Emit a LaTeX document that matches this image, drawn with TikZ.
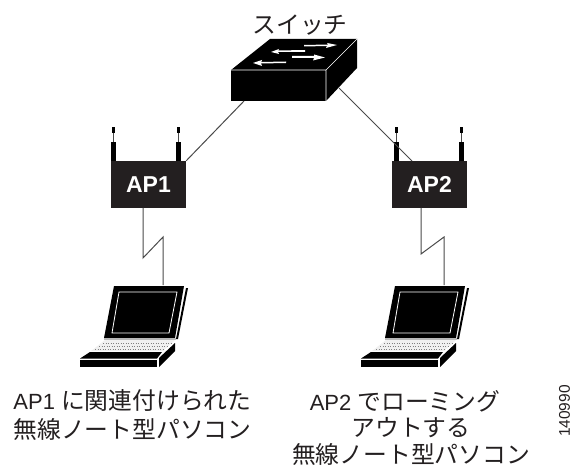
\documentclass[tikz,border=0pt]{standalone}
\usepackage{fontspec}
\setmainfont{Liberation Sans}
\newfontfamily\cjk{Noto Sans CJK JP}
\definecolor{apblack}{HTML}{231F20}
\definecolor{linegray}{HTML}{4A4A4A}
\newcommand{\capfont}{\fontsize{22}{28.5}\selectfont}
\newcommand{\capcjk}{\cjk\fontsize{23.8}{28.5}\selectfont}
\tikzset{
  x=1pt,y=-1pt,
  apbox/.style={fill=apblack,text=white,minimum width=75pt,minimum height=47pt,inner sep=0pt,font=\bfseries\fontsize{23}{23}\selectfont},
  link/.style={draw=linegray,line width=1pt},
  captext/.style={align=center,text=apblack,font=\capfont,inner sep=0pt},
}
\newcommand{\antenna}[1]{%
  \fill[black] (#1-2.5,142) rectangle (#1+2.5,161);
  \draw[linegray,line width=0.8pt] (#1,133) -- (#1,142);
  \fill[black] (#1-1.5,127) rectangle (#1+1.5,133);
}
\newcommand{\laptop}[1]{%
  \begin{scope}[shift={(#1,0)}]
    \fill[black] (114,286) -- (184,286) -- (175,338) -- (104,338) -- cycle;
    \draw[white,line width=0.8pt] (119,292) -- (177,292) -- (169,333) -- (112,333) -- cycle;
    \fill[black] (186,288) -- (188,288) -- (178,339) -- (176,339) -- cycle;
    \fill[gray!55] (104,338) rectangle (176,340);
    \fill[gray!12] (105,340) -- (175,340) -- (163,351) -- (91,351) -- cycle;
    \draw[gray,line width=0.5pt,dotted] (103,343) -- (171,343);
    \draw[gray,line width=0.5pt,dotted] (99,346) -- (167,346);
    \draw[gray,line width=0.5pt,dotted] (95,349) -- (163,349);
    \fill[black] (90,352) -- (162,352) -- (157,358.5) -- (80,358.5) -- cycle;
    \fill[black] (80,360) rectangle (157,367);
    \fill[black] (159,358) -- (175,343) -- (175,351) -- (159,367) -- cycle;
  \end{scope}
}
\begin{document}
\begin{tikzpicture}
\useasboundingbox (0,0) rectangle (573,465);
% switch
\fill[black] (231,70) rectangle (326,101);
\fill[black] (231,70) -- (270,39) -- (357,39) -- (326,70) -- cycle;
\fill[black] (326,70) -- (357,39) -- (357,68) -- (326,101) -- cycle;
\draw[white,line width=0.6pt] (231,70) -- (326,70) -- (357,39) (326,70) -- (326,101);
\fill[white] (304,45) -- (328,44.5) -- (327,43) -- (337,45) -- (326,48) -- (327,46) -- (304,46.5) -- cycle;
\fill[white] (305,50) -- (278,50.5) -- (279,49) -- (271,52) -- (279,54) -- (278,52) -- (305,52) -- cycle;
\fill[white] (292,56) -- (314,56) -- (314,54.5) -- (325,57.5) -- (313,60.5) -- (314,58) -- (292,58) -- cycle;
\fill[white] (286,61.5) -- (261,62) -- (262,60) -- (253,63) -- (262,66) -- (261,63.5) -- (286,63) -- cycle;
\node[text=apblack,font=\capcjk,inner sep=0pt] (swlabel) at (300,25) {スイッチ};
% access points
\antenna{113.5}
\antenna{178.5}
\antenna{396.5}
\antenna{461.5}
\node[apbox] (ap1) at (148.5,184.5) {AP1};
\node[apbox] (ap2) at (429.5,184.5) {AP2};
\coordinate (swl) at (244,101);
\coordinate (swr) at (339,88);
\coordinate (ap2t) at (412,161);
\draw[link] (swl) -- (ap1.north east);
\draw[link] (swr) -- (ap2t);
% laptops
\laptop{0}
\laptop{281}
\coordinate (l1a) at (143,208);
\coordinate (l1b) at (143,258);
\coordinate (l1c) at (163,237);
\coordinate (l1d) at (163,285);
\coordinate (l2a) at (421,208);
\coordinate (l2b) at (421,254);
\coordinate (l2c) at (444,237);
\coordinate (l2d) at (444,285);
\draw[link] (l1a) -- (l1b) -- (l1c) -- (l1d);
\draw[link] (l2a) -- (l2b) -- (l2c) -- (l2d);
% captions
\node[captext] (c1) at (132.5,415) {AP1 {\capcjk に関連付けられた}\\{\capcjk 無線ノート型パソコン}};
\node[captext] (c2a) at (405,401) {AP2 {\capcjk でローミング}};
\node[captext] (c2b) at (411,428) {\capcjk アウトする};
\node[captext] (c2c) at (411,454) {\capcjk 無線ノート型パソコン};
\node[rotate=90,inner sep=0pt,text=apblack,font=\fontsize{15.5}{16}\selectfont] (num) at (564.5,411) {140990};
\end{tikzpicture}
\end{document}
